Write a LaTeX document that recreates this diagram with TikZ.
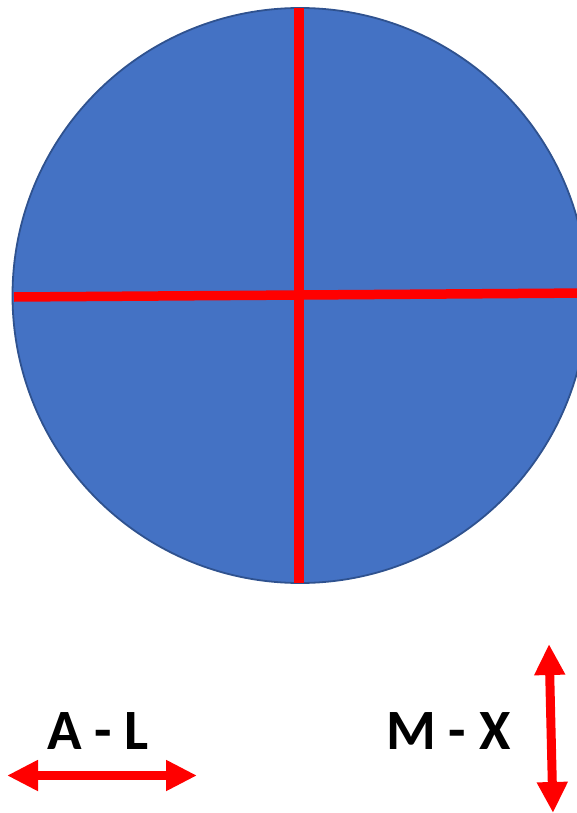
\documentclass[tikz,border=0pt]{standalone}
\usepackage{fontspec}
\setmainfont{Carlito}
\usetikzlibrary{arrows.meta}
\definecolor{fillblue}{HTML}{4472C4}
\definecolor{edgeblue}{HTML}{2F528F}
\definecolor{pureRed}{HTML}{FF0000}
\tikzset{
  disc/.style={circle, fill=fillblue, draw=edgeblue, line width=1.8pt, minimum size=575pt, inner sep=0pt},
  redline/.style={draw=pureRed, line width=9.5pt},
  redarrow/.style={draw=pureRed, line width=9pt, {Triangle[length=31pt,width=29pt]}-{Triangle[length=31pt,width=29pt]}},
  lbl/.style={font=\fontsize{57}{60}\selectfont\bfseries, text=black, inner sep=0pt}
}
\begin{document}
\begin{tikzpicture}[x=1pt,y=-1pt]
\useasboundingbox (0,0) rectangle (577,813);
\node[disc] (c) at (300,295.5) {};
\coordinate (vt) at (299,8);
\coordinate (vb) at (299,583);
\coordinate (hl) at (14,297);
\coordinate (hr) at (590,293);
\draw[redline] (vt) -- (vb);
\draw[redline] (hl) -- (hr);
\node[lbl] (al) at (98,731.5) {A - L};
\node[lbl] (mx) at (448.5,731.5) {M - X};
\coordinate (ha) at (7,775.5);
\coordinate (hb) at (197,775.5);
\draw[redarrow] (ha) -- (hb);
\coordinate (va) at (549,644);
\coordinate (vb2) at (553,813);
\draw[redarrow] (va) -- (vb2);
\end{tikzpicture}
\end{document}
